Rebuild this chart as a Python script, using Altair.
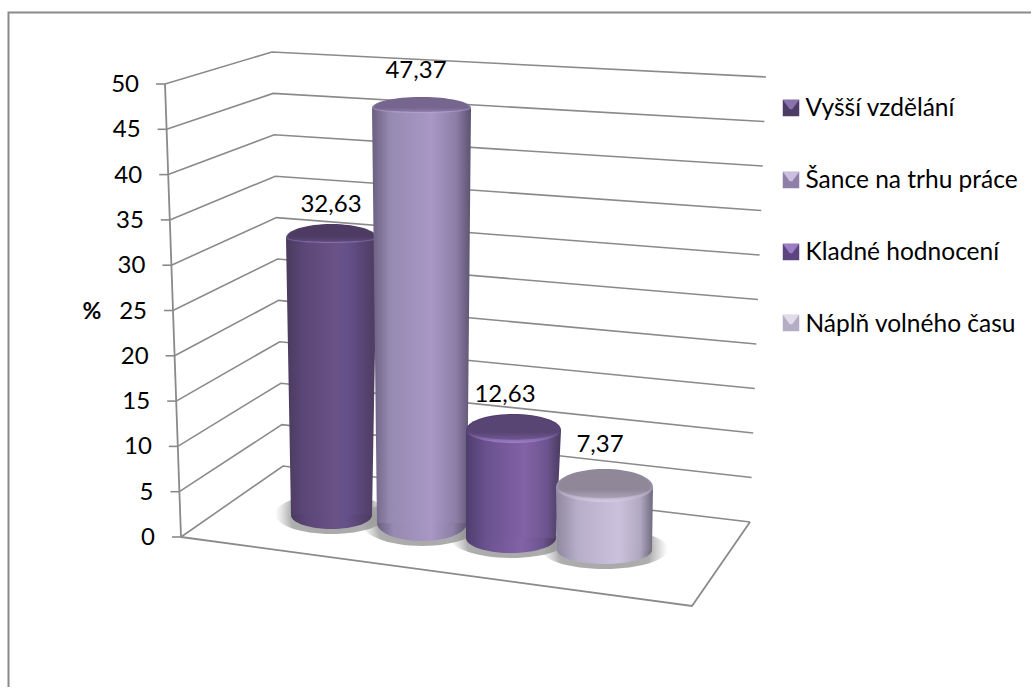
import altair as alt
import pandas as pd

# Chart values
categories = ["Vyšší vzdělání", "Šance na trhu práce", "Kladné hodnocení", "Náplň volného času"]
values = [32.63, 47.37, 12.63, 7.37]
value_labels = ["32,63", "47,37", "12,63", "7,37"]
tick_values = [0, 5, 10, 15, 20, 25, 30, 35, 40, 45, 50]

# Swatch colours for the legend and the lighter facet on top of each swatch
swatch_colors = ["#4d3c66", "#8e7fa8", "#5b4480", "#b5adc6"]
swatch_lights = ["#8a72ad", "#cbbfe0", "#9a7dc4", "#e0dcea"]

W, H = 1032, 688

# Vertical scale: value 0 on the front edge sits 537 px down, 9.06 px per unit
PX_ZERO, PX_PER_UNIT = 537.0, 9.06


def units(px):
    return (PX_ZERO - px) / PX_PER_UNIT


x_scale = alt.Scale(domain=[0, W], range=[0, W], nice=False, zero=False)
y_scale = alt.Scale(domain=[units(H), units(0)], range=[H, 0], nice=False, zero=False)
X = alt.X("x:Q", scale=x_scale, axis=None)
Y = alt.Y("y:Q", scale=y_scale, axis=None)


def lerp(a, b, t):
    return a + (b - a) * t


# Three perspective corners of the box at value 0 and at value 50: (x, px y)
FRONT_LEFT = ((181, 537), (165, 84))
BACK_LEFT = ((283, 466), (272, 52))
BACK_RIGHT = ((750, 522), (766, 77))
FRONT_RIGHT = (692, 606)


def corner(c, v):
    t = v / 50
    return lerp(c[0][0], c[1][0], t), units(lerp(c[0][1], c[1][1], t))


GRID = "#8a8a8a"
layers = []

# Chart frame along the top and left
frame = pd.DataFrame({"x": [1031, 8.5, 8.5], "y": [units(12.5), units(12.5), units(687)], "o": [0, 1, 2]})
layers.append(alt.Chart(frame).mark_line(color=GRID, strokeWidth=2).encode(x=X, y=Y, order="o:O"))

# Walls: each tick runs along the side wall and then along the back wall
rows = []
for v in tick_values:
    for i, (px, uy) in enumerate([
        corner(FRONT_LEFT, v),
        corner(BACK_LEFT, v),
        corner(BACK_RIGHT, v),
    ]):
        rows.append({"x": px, "y": uy, "v": v, "o": i})
layers.append(
    alt.Chart(pd.DataFrame(rows))
    .mark_line(color=GRID, strokeWidth=1.6)
    .encode(x=X, y=Y, detail="v:O", order="o:Q")
)

# Vertical axis line, tick stubs and tick labels follow the slanted front edge
axis_df = pd.DataFrame(
    [{"x": corner(FRONT_LEFT, v)[0], "y": corner(FRONT_LEFT, v)[1], "v": v} for v in (0, 50)]
)
layers.append(alt.Chart(axis_df).mark_line(color=GRID, strokeWidth=1.8).encode(x=X, y=Y, order="v:Q"))

tick_df = pd.DataFrame(
    [
        {
            "x": corner(FRONT_LEFT, v)[0],
            "x0": corner(FRONT_LEFT, v)[0] - 9,
            "xl": corner(FRONT_LEFT, v)[0] - 26,
            "y": corner(FRONT_LEFT, v)[1],
            "label": str(v),
        }
        for v in tick_values
    ]
)
layers.append(
    alt.Chart(tick_df)
    .mark_rule(color=GRID, strokeWidth=1.6)
    .encode(x=alt.X("x0:Q", scale=x_scale, axis=None), x2="x:Q", y=Y)
)
layers.append(
    alt.Chart(tick_df)
    .mark_text(align="right", baseline="middle", font="Lato", fontSize=24, color="#000000", dy=1)
    .encode(x=alt.X("xl:Q", scale=x_scale, axis=None), y=Y, text="label:N")
)

# Floor outline
floor = pd.DataFrame(
    {
        "x": [FRONT_LEFT[0][0], FRONT_RIGHT[0], BACK_RIGHT[0][0]],
        "y": [units(537), units(FRONT_RIGHT[1]), units(522)],
        "o": [0, 1, 2],
    }
)
layers.append(alt.Chart(floor).mark_line(color=GRID, strokeWidth=1.8).encode(x=X, y=Y, order="o:Q"))

# Axis title
layers.append(
    alt.Chart(pd.DataFrame({"x": [92], "y": [units(312)], "t": ["%"]}))
    .mark_text(font="Lato", fontSize=23, fontWeight="bold", color="#000000", baseline="middle")
    .encode(x=X, y=Y, text="t:N")
)

# Cylinder layout: side-wall edges at top and bottom, base level, cap and base radii,
# perspective shrink of the height, label placement and shading
cylinders = [
    dict(top=(286, 377), bot=(291, 372), base_px=515, cap_up=14, cap_dn=5, bot_ry=14, persp=0.937,
         label_x=331, label_gap=34,
         body=[("#493a5c", 0), ("#5a4676", .18), ("#6a5287", .55), ("#65508a", .68), ("#4c3b60", 1)],
         rim=["#4b3961", "#54406e", "#8a70ae"], cap="#4e3b64", mid="#5e4a7a"),
    dict(top=(372, 471), bot=(377, 467), base_px=523, cap_up=11, cap_dn=5, bot_ry=18, persp=0.967,
         label_x=416, label_gap=38,
         body=[("#6b5f80", 0), ("#958ab0", .18), ("#a997c6", .6), ("#8c7ea6", .85), ("#5d5270", 1)],
         rim=["#6e5f87", "#7f6f9a", "#b5a4d0"], cap="#75658f", mid="#8a7aa6"),
    dict(top=(466, 561), bot=(466, 556), base_px=538, cap_up=16, cap_dn=13, bot_ry=15, persp=0.944,
         label_x=505, label_gap=36,
         body=[("#4f3d6e", 0), ("#6a5290", .22), ("#8263a6", .62), ("#6d5490", .85), ("#493a5e", 1)],
         rim=["#4e3b68", "#58437a", "#a080c8"], cap="#594573", mid="#6f5792"),
    dict(top=(556, 653), bot=(557, 652), base_px=550, cap_up=18, cap_dn=15, bot_ry=14, persp=0.944,
         label_x=600, label_gap=43,
         body=[("#8f88a0", 0), ("#b7aeca", .22), ("#cbc1dc", .65), ("#b0a8c0", .87), ("#6f6a7e", 1)],
         rim=["#8b8496", "#9d95ab", "#d5cbe4"], cap="#908898", mid="#aaa2b8"),
]


def ellipse_path(up, down):
    return f"M-1,0A1,{round(up, 4)} 0 0,1 1,0A1,{round(down, 4)} 0 0,1 -1,0Z"


def h_gradient(stops):
    return alt.LinearGradient(
        gradient="linear", x1=0, x2=1, y1=0, y2=0,
        stops=[alt.GradientStop(color=c, offset=o) for c, o in stops],
    )


def v_gradient(colors, offsets):
    return alt.LinearGradient(
        gradient="linear", x1=0, x2=0, y1=0, y2=1,
        stops=[alt.GradientStop(color=c, offset=o) for c, o in zip(colors, offsets)],
    )


def ellipse_layer(cx, uy, rx, up, down, fill):
    df = pd.DataFrame({"x": [cx], "y": [uy]})
    return (
        alt.Chart(df)
        .mark_point(
            shape=ellipse_path(up / rx, down / rx), size=(2 * rx) ** 2, filled=True, fill=fill,
            opacity=1, strokeWidth=0,
        )
        .encode(x=X, y=Y)
    )


# Soft floor shadows go first so that no cylinder is covered by one
shadow = alt.RadialGradient(
    gradient="radial", x1=0.5, y1=0.5, x2=0.5, y2=0.5, r1=0, r2=0.5,
    stops=[
        alt.GradientStop(color="rgba(120,120,120,0.65)", offset=0),
        alt.GradientStop(color="rgba(120,120,120,0.6)", offset=0.72),
        alt.GradientStop(color="rgba(150,150,150,0)", offset=1),
    ],
)
for c in cylinders:
    l, r = c["bot"]
    ry = c["bot_ry"] + 6
    layers.append(ellipse_layer((l + r) / 2, units(c["base_px"] - 1), (r - l) / 2 + 16, ry, ry, shadow))

# Cylinders, left to right, so each one overlaps the previous
for c, v in zip(cylinders, values):
    base_u = units(c["base_px"])
    top_u = base_u + v * c["persp"]
    (tl, tr), (bl, br) = c["top"], c["bot"]
    cx_top, rx_top = (tl + tr) / 2, (tr - tl) / 2
    cx_bot, rx_bot = (bl + br) / 2, (br - bl) / 2
    body_fill = h_gradient(c["body"])
    # Base ellipse, then the tapering side wall, then the bevelled cap
    layers.append(ellipse_layer(cx_bot, base_u, rx_bot, c["bot_ry"], c["bot_ry"], body_fill))
    side = pd.DataFrame({"xa": [bl, tl], "xb": [br, tr], "y": [base_u, top_u]})
    layers.append(
        alt.Chart(side)
        .mark_area(orient="horizontal", fill=body_fill, opacity=1)
        .encode(x=alt.X("xa:Q", scale=x_scale, axis=None), x2="xb:Q", y=Y)
    )
    up, dn = c["cap_up"], c["cap_dn"]
    layers.append(ellipse_layer(cx_top, top_u, rx_top, up, dn, v_gradient(c["rim"], [0, 0.62, 1])))
    layers.append(
        ellipse_layer(
            cx_top, top_u, rx_top * 0.95, up * 0.95, dn * 0.75,
            v_gradient([c["cap"], c["cap"], c["mid"]], [0, 0.7, 1]),
        )
    )

# Value labels above the caps
label_df = pd.DataFrame(
    {
        "x": [c["label_x"] for c in cylinders],
        "y": [
            units(c["base_px"]) + v * c["persp"] + c["label_gap"] / PX_PER_UNIT
            for c, v in zip(cylinders, values)
        ],
        "t": value_labels,
    }
)
layers.append(
    alt.Chart(label_df)
    .mark_text(font="Lato", fontSize=24, color="#000000", baseline="middle", dy=1)
    .encode(x=X, y=Y, text="t:N")
)

# Legend swatches are drawn as marks so they can carry a bevel; the legend supplies the labels
swatch_px = [108, 180, 252, 323]
swatch_df = pd.DataFrame({"x": [791] * 4, "y": [units(p) for p in swatch_px], "category": categories})
layers.append(
    alt.Chart(swatch_df)
    .mark_point(shape="square", filled=True, size=272, opacity=1, strokeWidth=0)
    .encode(
        x=X,
        y=Y,
        color=alt.Color(
            "category:N",
            sort=categories,
            scale=alt.Scale(domain=categories, range=swatch_colors),
            legend=alt.Legend(
                orient="none", legendX=775, legendY=95.5, title=None, symbolType="square", symbolSize=256,
                symbolStrokeWidth=0, symbolOpacity=0, labelFont="Lato", labelFontSize=24.5,
                labelColor="#000000", labelOffset=6, rowPadding=46, labelLimit=260, clipHeight=26,
            ),
        ),
    )
)
for px, light in zip(swatch_px, swatch_lights):
    layers.append(
        alt.Chart(pd.DataFrame({"x": [791], "y": [units(px)]}))
        .mark_point(shape="M-1,-1L1,-1L0.15,0.15L-0.15,0.15Z", size=272, filled=True, fill=light, opacity=1, strokeWidth=0)
        .encode(x=X, y=Y)
    )

chart = (
    alt.layer(*layers)
    .properties(width=W, height=H, padding=0, autosize=alt.AutoSizeParams(type="none"), background="#ffffff")
    .configure_view(stroke=None)
)

chart.save("out.html", embed_options={"renderer": "svg", "actions": False})
